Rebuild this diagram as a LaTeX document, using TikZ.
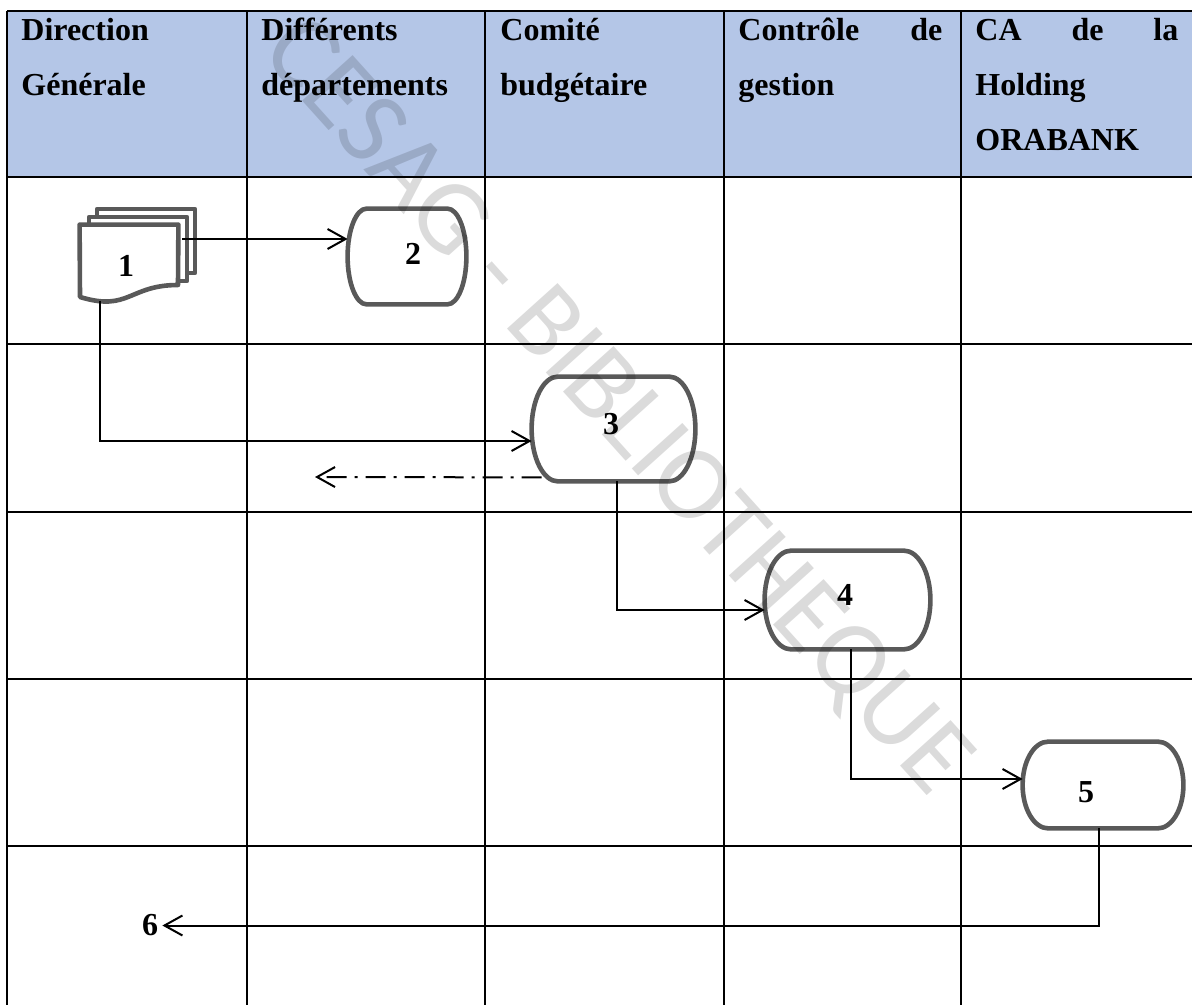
\documentclass[tikz,border=0pt]{standalone}
\usepackage{fontspec}
\setmainfont{Liberation Serif}
\newfontfamily\wmfont{Carlito}
\usetikzlibrary{arrows.meta,calc}
\definecolor{hdrblue}{HTML}{B4C6E7}
\definecolor{shapegray}{HTML}{595959}

% outline of a terminator box drawn around a named (invisible) node
\newcommand\termline[1]{%
  \draw[outline] let \p1=(#1.north west), \p2=(#1.south east),
      \n1={0.16*(\x2-\x1)}, \n2={0.5*(\y1-\y2)} in
    (\x1+\n1,\y1) -- (\x2-\n1,\y1)
    arc[start angle=90,end angle=-90,x radius=\n1,y radius=\n2]
    -- (\x1+\n1,\y2)
    arc[start angle=270,end angle=90,x radius=\n1,y radius=\n2] -- cycle;}

\begin{document}
\begin{tikzpicture}[x=0.5pt,y=-0.5pt,
  grid/.style={line width=1.3pt,black},
  termbox/.style={rectangle,draw=none,inner sep=0pt},
  outline/.style={draw=shapegray,line width=2.3pt,line join=round},
  conn/.style={line width=1pt,black},
  tip/.style={-{Straight Barb[length=9pt,width=10pt]}},
  dashline/.style={conn,dash pattern=on 10pt off 4pt on 1.5pt off 4pt},
  num/.style={font=\fontsize{16}{19}\selectfont\bfseries,inner sep=0pt},
  hdr/.style={font=\fontsize{16}{27.5}\selectfont\bfseries,inner sep=0pt,anchor=base west},
]
\useasboundingbox (0,0) rectangle (1192,1005);

% header band
\fill[hdrblue] (7,11) rectangle (1192,177);

% table rules
\foreach \yy in {11,177,344,512,679,846}
  \draw[grid] (7,\yy) -- (1192,\yy);
\foreach \xx in {7,247,485,724,961}
  \draw[grid] (\xx,11) -- (\xx,1005);

% column headings
\node[hdr] (h1) at (21,41) {\vtop{\hbox{Direction}\hbox{Générale}}};
\node[hdr] (h2) at (261,41) {\vtop{\hbox{Différents}\hbox{départements}}};
\node[hdr] (h3) at (500,41) {\vtop{\hbox{Comité}\hbox{budgétaire}}};
\node[hdr] (h4) at (738,41) {\vtop{\hbox to 102pt{Contrôle\hfill de}\hbox{gestion}}};
\node[hdr] (h5) at (975,41) {\vtop{\hbox to 101.5pt{CA\hfill de\hfill la}\hbox{Holding}\hbox{ORABANK}}};

% stacked documents (step 1)
\node[termbox,minimum width=49pt,minimum height=36pt] (d1) at (129,261) {};
\draw[outline] (97,217) -- (97,209) -- (195,209) -- (195,273) -- (187,273);
\draw[outline] (89,225) -- (89,217) -- (187,217) -- (187,281) -- (178,281);
\draw[outline,fill=white] (d1.north west) -- (d1.north east) -- (178,285)
  .. controls (129,285) and (129,312) .. (80,297) -- cycle;
\coordinate (d1w) at (100,301);
\node[num] (t1) at (126,266) {1};

% terminator boxes
\node[termbox,minimum width=59pt,minimum height=47.5pt] (b2) at (407,256.5) {};
\node[termbox,minimum width=81.5pt,minimum height=52pt] (b3) at (613.5,429) {};
\node[termbox,minimum width=82.5pt,minimum height=49pt] (b4) at (847.5,600) {};
\node[termbox,minimum width=80pt,minimum height=43pt] (b5) at (1103,785) {};
\termline{b2}
\termline{b3}
\termline{b4}
\termline{b5}
\node[num] (t2) at ($(b2.center)+(6,-2.5)$) {2};
\node[num] (t3) at ($(b3.center)+(-2.5,-5)$) {3};
\node[num] (t4) at ($(b4.center)+(-2.5,-5)$) {4};
\node[num] (t5) at ($(b5.center)+(-17,7)$) {5};
\node[num,inner sep=2pt] (n6) at (150,925.5) {6};

% flow connectors
\draw[conn,tip] ($(d1.east)+(4,-22)$) coordinate (a12) -- (a12 -| b2.west);
\draw[conn,tip] (d1w) |- ($(b3.west)+(0,12)$);
\coordinate (ret) at (315,477);
\draw[dashline,tip] ($(b3.south west)+(10,-4)$) -- (ret);
\draw[conn,tip] ($(b3.south)+(3.5,0)$) |- ($(b4.west)+(0,10)$);
\draw[conn,tip] ($(b4.south)+(3.5,0)$) |- ($(b5.west)+(0,-6)$);
\draw[conn,tip] ($(b5.south)+(-4,0)$) |- (n6.east);

% library watermark
\node[rotate=-48,text=black,opacity=0.14,inner sep=0pt,
  font=\wmfont\fontsize{53}{60}\selectfont] (wm) at (615,408) {CESAG - BIBLIOTHEQUE};
\end{tikzpicture}
\end{document}
